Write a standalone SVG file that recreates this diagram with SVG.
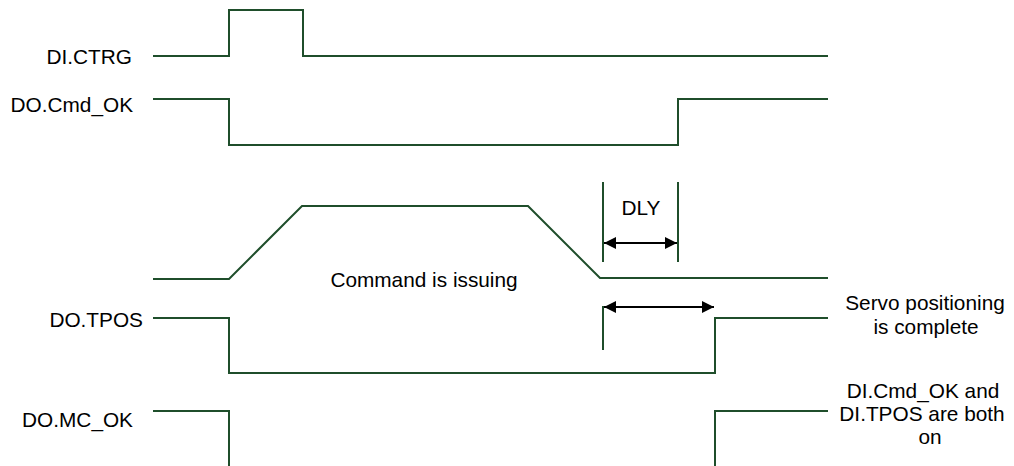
<svg xmlns="http://www.w3.org/2000/svg" width="1014" height="466" viewBox="0 0 1014 466">
<style>
.sig{fill:none;stroke:#1F4E2B;stroke-width:2;stroke-linejoin:miter}
.dim{fill:none;stroke:#000;stroke-width:2}
.t{font-family:"Liberation Sans",Arial,sans-serif;font-size:20.8px;fill:#000}
.r{text-anchor:end}
.m{text-anchor:middle}
</style>
<defs>
<marker id="ah" viewBox="0 0 12 12" refX="12" refY="6" markerWidth="12" markerHeight="12" markerUnits="userSpaceOnUse" orient="auto-start-reverse">
<path d="M0,0 L12,6 L0,12 Z" fill="#000"/>
</marker>
</defs>
<rect width="1014" height="466" fill="#fff"/>
<g id="connectors">
<polyline class="sig" points="153,56 229,56 229,10 303,10 303,56 828,56"/>
<polyline class="sig" points="153,99 229,99 229,145 678,145 678,99 828,99"/>
<polyline class="sig" points="153,279 229,279 302,206 528,206 600,278 828,278"/>
<polyline class="sig" points="153,318 229,318 229,373 715,373 715,318 828,318"/>
<polyline class="sig" points="153,411 229,411 229,466"/>
<polyline class="sig" points="715,466 715,411 828,411"/>
<line class="sig" x1="603" y1="182" x2="603" y2="262"/>
<line class="sig" x1="678" y1="182" x2="678" y2="262"/>
<line class="sig" x1="603" y1="306" x2="603" y2="350"/>
<line class="dim" x1="604" y1="243" x2="677" y2="243" marker-start="url(#ah)" marker-end="url(#ah)"/>
<line class="dim" x1="604" y1="307" x2="714" y2="307" marker-start="url(#ah)" marker-end="url(#ah)"/>
</g>
<g id="n-di-ctrg"><text class="t r" x="132" y="64">DI.CTRG</text></g>
<g id="n-do-cmdok"><text class="t r" x="133" y="112">DO.Cmd_OK</text></g>
<g id="n-dly"><text class="t m" x="641" y="215">DLY</text></g>
<g id="n-command"><text class="t m" x="424" y="287">Command is issuing</text></g>
<g id="n-do-tpos"><text class="t r" x="143" y="327">DO.TPOS</text></g>
<g id="n-servo"><text class="t m" x="925" y="310">Servo positioning</text><text class="t m" x="926" y="334">is complete</text></g>
<g id="n-do-mcok"><text class="t r" x="133" y="427">DO.MC_OK</text></g>
<g id="n-both"><text class="t m" x="923" y="398">DI.Cmd_OK and</text><text class="t m" x="922" y="421">DI.TPOS are both</text><text class="t m" x="930" y="444">on</text></g>
</svg>
